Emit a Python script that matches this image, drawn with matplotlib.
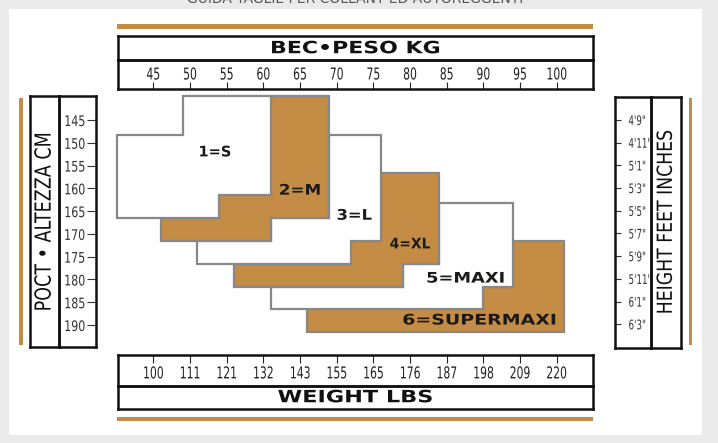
import matplotlib
matplotlib.use("Agg")
import matplotlib.pyplot as plt
from matplotlib.patches import Polygon, Rectangle
from matplotlib.patheffects import AbstractPathEffect
from matplotlib.transforms import Affine2D

# ---------------- data ----------------
kg_ticks = [45, 50, 55, 60, 65, 70, 75, 80, 85, 90, 95, 100]
lbs_labels = ["100", "111", "121", "132", "143", "155", "165", "176", "187", "198", "209", "220"]
cm_ticks = [145, 150, 155, 160, 165, 170, 175, 180, 185, 190]
inch_ticks = [57, 59, 61, 63, 65, 67, 69, 71, 73, 75]
inch_labels = ["4'9\"", "4'11\"", "5'1\"", "5'3\"", "5'5\"", "5'7\"", "5'9\"", "5'11\"", "6'1\"", "6'3\""]

size_names = ["1=S", "2=M", "3=L", "4=XL", "5=MAXI", "6=SUPERMAXI"]
size_fill = ["white", "gold", "white", "gold", "white", "gold"]
# outlines of each size zone: weight (kg) and height (cm) vertices
size_kg = [
    [40, 49, 49, 61, 61, 54, 54, 40],
    [61, 69, 69, 61, 61, 46, 46, 54, 54, 61],
    [69, 76, 76, 72, 72, 51, 51, 61, 61, 69],
    [76, 84, 84, 79, 79, 56, 56, 72, 72, 76],
    [84, 94, 94, 90, 90, 61, 61, 79, 79, 84],
    [94, 101, 101, 66, 66, 90, 90, 94],
]
size_cm = [
    [148.3, 148.3, 139.7, 139.7, 161.5, 161.5, 166.5, 166.5],
    [139.7, 139.7, 166.5, 166.5, 171.5, 171.5, 166.5, 166.5, 161.5, 161.5],
    [148.3, 148.3, 171.6, 171.6, 176.6, 176.6, 171.5, 171.5, 166.5, 166.5],
    [156.6, 156.6, 176.6, 176.6, 181.6, 181.6, 176.6, 176.6, 171.6, 171.6],
    [163.3, 163.3, 181.6, 181.6, 186.4, 186.4, 181.6, 181.6, 176.6, 176.6],
    [171.6, 171.6, 191.5, 191.5, 186.4, 186.4, 181.6, 181.6],
]
label_kg = [53.4, 65.0, 72.4, 80.0, 87.6, 89.5]
label_cm = [152.0, 160.4, 165.9, 172.2, 179.7, 188.9]

# ---------------- style ----------------
W, H = 718, 443
GOLD = "#c48c45"
EDGE = "#888888"
BG = "#ebebeb"
label_stretch = [1.0, 1.15, 1.12, 0.95, 1.22, 1.3]


class Squeeze(AbstractPathEffect):
    """Scale text glyphs along the text direction (condensed / expanded look)."""

    def __init__(self, sx=0.75, anchor="center"):
        super().__init__()
        self.sx = sx
        self.anchor = anchor

    def draw_path(self, renderer, gc, tpath, affine, rgbFace=None):
        ext = tpath.get_extents()
        cx = {"left": ext.x0, "right": ext.x1}.get(self.anchor, 0.5 * (ext.x0 + ext.x1))
        t = Affine2D().translate(-cx, 0).scale(self.sx, 1).translate(cx, 0) + affine
        renderer.draw_path(gc, tpath, t, rgbFace)


fig = plt.figure(figsize=(W / 100, H / 100), dpi=100, facecolor=BG)


def rect(x0, y0, x1, y1):
    return [x0 / W, 1 - y1 / H, (x1 - x0) / W, (y1 - y0) / H]


def fig_rect(x0, y0, x1, y1, color, z=-2):
    fig.patches.append(Rectangle((x0 / W, 1 - y1 / H), (x1 - x0) / W, (y1 - y0) / H,
                                 transform=fig.transFigure, facecolor=color,
                                 edgecolor="none", zorder=z))


# white panel + gold bars
fig_rect(9, 9, 702, 435, "white", -3)
fig_rect(117, 24, 593, 28.5, GOLD)
fig_rect(117, 416.5, 593, 421, GOLD)
fig_rect(18.5, 98, 22.5, 345, GOLD)
fig_rect(688.5, 98, 692, 345, GOLD)

fig.text(355 / W, 1 - 3.0 / H, "GUIDA TAGLIE PER COLLANT ED AUTOREGGENTI",
         ha="center", va="baseline", fontsize=10, color="#555555")


def box(r, lw=1.8):
    a = fig.add_axes(rect(*r))
    a.set_facecolor("none")
    a.set_zorder(5)
    for s in a.spines.values():
        s.set_linewidth(lw)
        s.set_color("#111111")
    return a


# top weight (kg) box
a = box((117.5, 35.5, 592.5, 60))
a.set_xticks([]); a.set_yticks([])
a.text(0.5, 0.48, "BEC\u2022PESO KG", transform=a.transAxes, ha="center", va="center",
       fontsize=12.2, fontweight="bold", color="#111111",
       path_effects=[Squeeze(1.3)])

a = box((117.5, 60, 592.5, 89))
a.set_xlim(45 - (153.3 - 117.5) / 7.335, 45 + (592.5 - 153.3) / 7.335)
a.set_yticks([])
a.set_xticks(kg_ticks)
a.set_xticklabels([str(v) for v in kg_ticks], fontsize=11.8, color="#222222")
a.tick_params(axis="x", direction="in", length=5, width=0.8, color="#222222", pad=-15.5)
for t in a.xaxis.get_majorticklabels():
    t.set_path_effects([Squeeze(0.66)])

# bottom weight (lbs) box
a = box((117.5, 355, 592.5, 385.5))
a.set_xlim(45 - (153.3 - 117.5) / 7.335, 45 + (592.5 - 153.3) / 7.335)
a.set_yticks([])
a.xaxis.tick_top()
a.set_xticks(kg_ticks)
a.set_xticklabels(lbs_labels, fontsize=11.8, color="#222222")
a.tick_params(axis="x", direction="in", length=6, width=0.8, color="#222222", pad=-19)
for t in a.xaxis.get_majorticklabels():
    t.set_path_effects([Squeeze(0.66)])

a = box((117.5, 385.5, 592.5, 409))
a.set_xticks([]); a.set_yticks([])
a.text(0.5, 0.5, "WEIGHT LBS", transform=a.transAxes, ha="center", va="center",
       fontsize=12.2, fontweight="bold", color="#111111",
       path_effects=[Squeeze(1.32)])

# left height (cm) box
a = box((30, 96, 59.3, 347))
a.set_xticks([]); a.set_yticks([])
a.text(0.5, 0.5, "POCT \u2022 ALTEZZA CM", transform=a.transAxes, ha="center", va="center",
       rotation=90, fontsize=16, color="#111111", path_effects=[Squeeze(0.79)])

a = box((59.3, 96, 96, 347))
a.set_ylim(145 + (347 - 120) / 4.556, 145 + (96 - 120) / 4.556)
a.set_xticks([])
a.yaxis.tick_right()
a.set_yticks(cm_ticks)
a.set_yticklabels([str(v) for v in cm_ticks], fontsize=10.5, color="#333333")
a.tick_params(axis="y", direction="in", length=6.5, width=0.8, color="#333333", pad=-7.5)
for t in a.yaxis.get_majorticklabels():
    t.set_horizontalalignment("right")
    t.set_path_effects([Squeeze(0.76, "right")])

# right height (inches) box
a = box((615, 96.7, 651, 348))
a.set_ylim(57 + (348 - 120) / 11.35, 57 + (96.7 - 120) / 11.35)
a.set_xticks([])
a.set_yticks(inch_ticks)
a.set_yticklabels(inch_labels, fontsize=9.5, color="#333333")
a.tick_params(axis="y", direction="in", length=4, width=0.8, color="#333333", pad=-9.5)
for t in a.yaxis.get_majorticklabels():
    t.set_horizontalalignment("left")
    t.set_path_effects([Squeeze(0.66, "left")])

a = box((651, 96.7, 680.7, 348))
a.set_xticks([]); a.set_yticks([])
a.text(0.5, 0.5, "HEIGHT FEET INCHES", transform=a.transAxes, ha="center", va="center",
       rotation=90, fontsize=15, color="#111111", path_effects=[Squeeze(0.83)])

# main size zones
ax = fig.add_axes([0, 0, 1, 1])
ax.set_facecolor("none")
ax.set_zorder(4)
ax.axis("off")
ax.set_xlim(45 - 153.3 / 7.335, 45 + (W - 153.3) / 7.335)
ax.set_ylim(145 + (H - 120) / 4.556, 145 - 120 / 4.556)

for i in reversed(range(len(size_names))):
    fc = GOLD if size_fill[i] == "gold" else "white"
    ax.add_patch(Polygon(list(zip(size_kg[i], size_cm[i])), closed=True, facecolor=fc,
                         edgecolor=EDGE, linewidth=1.6, joinstyle="miter", zorder=2 + (6 - i)))
    ax.text(label_kg[i], label_cm[i], size_names[i], ha="center", va="center",
            fontsize=10.5, fontweight="bold", color="#1a1a1a", zorder=20,
            path_effects=[Squeeze(label_stretch[i])])

fig.savefig("out.png", dpi=100, facecolor=BG)
